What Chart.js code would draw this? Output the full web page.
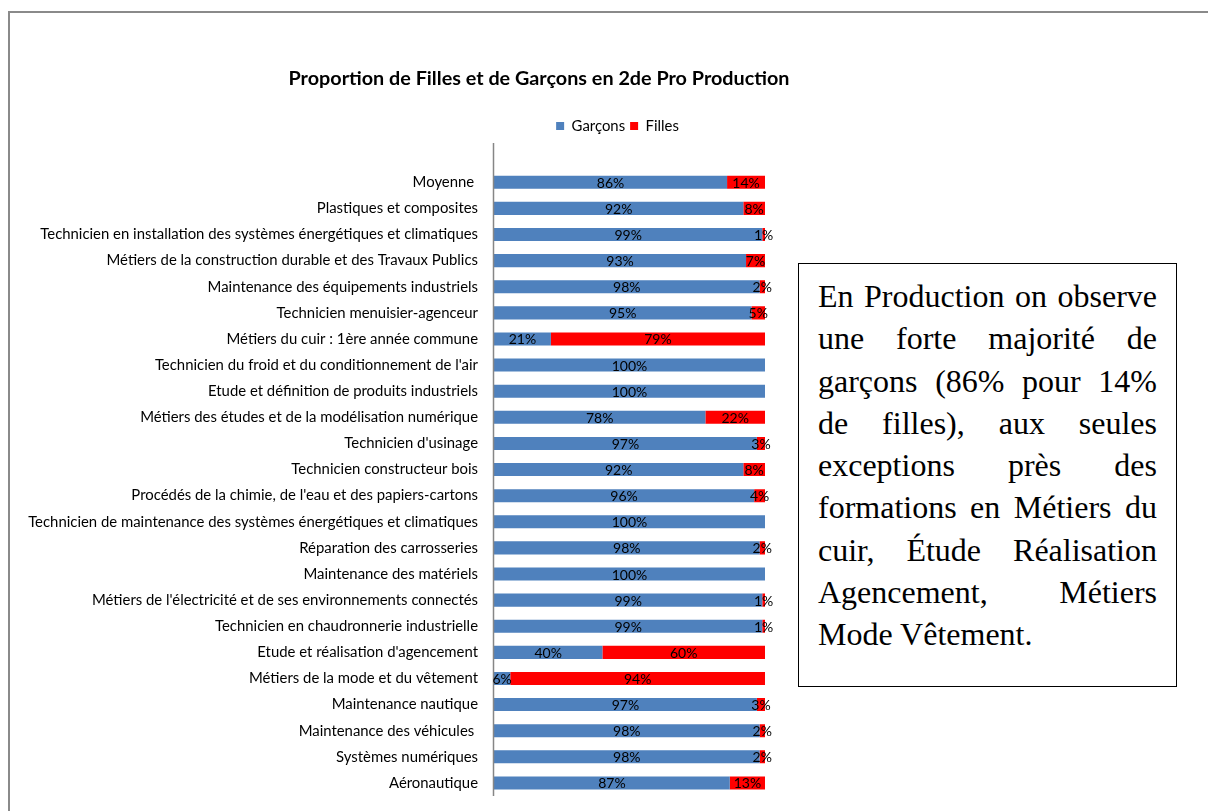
<!DOCTYPE html>
<html>
<head>
<meta charset="utf-8">
<script src="https://cdn.jsdelivr.net/npm/chart.js@4"></script>
<style>
html,body{margin:0;padding:0;background:#fff;overflow:hidden;width:1208px;height:811px;}
#frame{position:absolute;left:8px;top:11px;width:1300px;height:900px;border-left:2px solid #8a8a8a;border-top:2px solid #8a8a8a;}
#wrap{position:absolute;left:0;top:0;width:1078px;height:811px;}
#note{position:absolute;left:798px;top:263px;width:379px;height:424px;box-sizing:border-box;border:1.5px solid #000;background:#fff;padding:11px 19px 0 19px;font-family:"Liberation Serif","Times New Roman",serif;font-size:32px;line-height:42.3px;text-align:justify;color:#000;}
</style>
</head>
<body>
<div id="frame"></div>
<div id="wrap"><canvas id="c" width="1078" height="811"></canvas></div>
<div id="note">En Production on observe une forte majorité de garçons (86% pour 14% de filles), aux seules exceptions près des formations en Métiers du cuir, Étude Réalisation Agencement, Métiers Mode Vêtement.</div>
<script>
const titleText = "Proportion de Filles et de Garçons en 2de Pro Production";
const seriesNames = ["Garçons", "Filles"];
const categories = [
  "Moyenne ",
  "Plastiques et composites",
  "Technicien en installation des systèmes énergétiques et climatiques",
  "Métiers de la construction durable et des Travaux Publics",
  "Maintenance des équipements industriels",
  "Technicien menuisier-agenceur",
  "Métiers du cuir : 1ère année commune",
  "Technicien du froid et du conditionnement de l'air",
  "Etude et définition de produits industriels",
  "Métiers des études et de la modélisation numérique",
  "Technicien d'usinage",
  "Technicien constructeur bois",
  "Procédés de la chimie, de l'eau et des papiers-cartons",
  "Technicien de maintenance des systèmes énergétiques et climatiques",
  "Réparation des carrosseries",
  "Maintenance des matériels",
  "Métiers de l'électricité et de ses environnements connectés",
  "Technicien en chaudronnerie industrielle",
  "Etude et réalisation d'agencement",
  "Métiers de la mode et du vêtement",
  "Maintenance nautique",
  "Maintenance des véhicules ",
  "Systèmes numériques",
  "Aéronautique"
];
const garcons = [86, 92, 99, 93, 98, 95, 21, 100, 100, 78, 97, 92, 96, 100, 98, 100, 99, 99, 40, 6, 97, 98, 98, 87];
const filles  = [14, 8, 1, 7, 2, 5, 79, 0, 0, 22, 3, 8, 4, 0, 2, 0, 1, 1, 60, 94, 3, 2, 2, 13];

const FONT = "Lato, 'Open Sans', sans-serif";

const axisLinePlugin = {
  id: 'axisLine',
  afterLayout(chart) {
    // shift the legend block slightly left, as in the original
    if (chart.legend) { chart.legend.left -= 12; chart.legend.right -= 12; }
  },
  afterDatasetsDraw(chart) {
    const a = chart.chartArea;
    const n = chart.data.labels.length;
    const step = (a.bottom - a.top) / n;
    const ctx = chart.ctx;
    ctx.save();
    ctx.strokeStyle = '#868686';
    ctx.lineWidth = 1.5;
    ctx.beginPath();
    ctx.moveTo(a.left - 0.5, a.top - step);
    ctx.lineTo(a.left - 0.5, a.bottom);
    ctx.stroke();
    ctx.restore();
  }
};

const valueLabelPlugin = {
  id: 'valueLabels',
  afterDatasetsDraw(chart) {
    const ctx = chart.ctx;
    ctx.save();
    ctx.font = "14px " + FONT;
    ctx.fillStyle = '#000';
    ctx.textAlign = 'center';
    ctx.textBaseline = 'middle';
    chart.data.datasets.forEach((ds, di) => {
      const meta = chart.getDatasetMeta(di);
      meta.data.forEach((bar, i) => {
        const v = ds.data[i];
        if (!v) return;
        const p = bar.getProps(['x', 'y', 'base'], true);
        ctx.fillText(v + '%', (p.x + p.base) / 2, p.y + 1);
      });
    });
    ctx.restore();
  }
};

new Chart(document.getElementById('c'), {
  type: 'bar',
  data: {
    labels: categories,
    datasets: [
      { label: seriesNames[0], data: garcons, backgroundColor: '#4F81BD', borderWidth: 0, barPercentage: 0.5, categoryPercentage: 1 },
      { label: seriesNames[1], data: filles, backgroundColor: '#FF0000', borderWidth: 0, barPercentage: 0.5, categoryPercentage: 1 }
    ]
  },
  options: {
    indexAxis: 'y',
    responsive: false,
    animation: false,
    layout: { padding: { bottom: 15 }, autoPadding: false },
    plugins: {
      title: {
        display: true,
        text: titleText,
        color: '#000',
        font: { family: FONT, size: 19.8, weight: 'bold' },
        padding: { top: 66.5, bottom: 23.3 }
      },
      legend: {
        display: true,
        position: 'top',
        fullSize: false,
        labels: {
          color: '#000',
          font: { family: FONT, size: 14.9 },
          boxWidth: 8,
          boxHeight: 8,
          padding: 5
        }
      },
      tooltip: { enabled: false }
    },
    scales: {
      x: {
        stacked: true,
        min: 0,
        max: 100,
        position: 'top',
        display: true,
        grid: { display: false, drawTicks: false },
        border: { display: false },
        ticks: { display: false },
        afterFit(s) { s.height = 25.75; }
      },
      y: {
        stacked: true,
        position: 'left',
        grid: { display: false, drawTicks: false },
        border: { display: false },
        ticks: { color: '#000', font: { family: FONT, size: 14.9 }, padding: 16, autoSkip: false },
        afterFit(s) { s.width = 494; s.paddingTop = 0; s.paddingBottom = 0; }
      },
      yR: {
        type: 'linear',
        axis: 'y',
        position: 'right',
        display: true,
        grid: { display: false, drawTicks: false },
        border: { display: false },
        ticks: { display: false },
        afterFit(s) { s.width = 1078 - 765; s.paddingTop = 0; s.paddingBottom = 0; }
      }
    }
  },
  plugins: [axisLinePlugin, valueLabelPlugin]
});
</script>
</body>
</html>
